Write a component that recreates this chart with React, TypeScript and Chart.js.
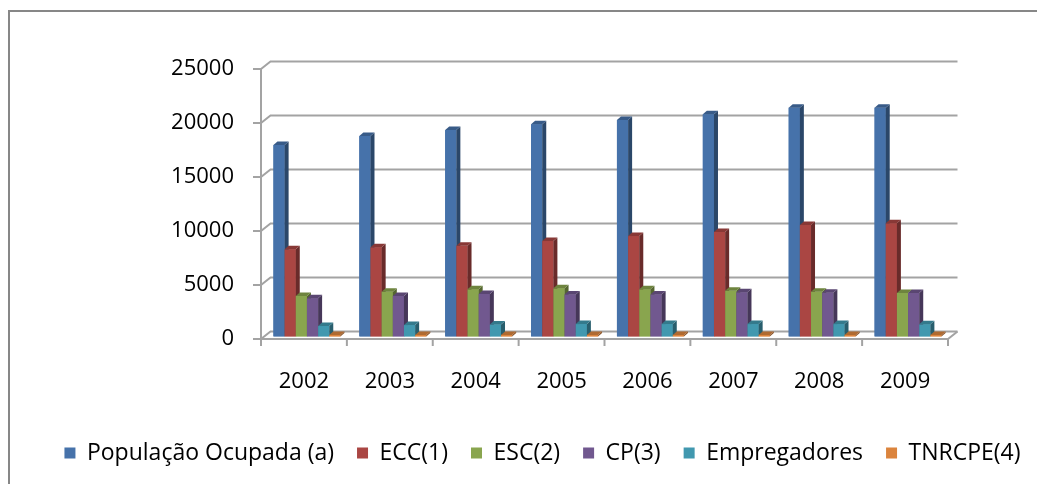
import React, { useEffect, useRef } from "react";
import { Chart, registerables } from "chart.js";

Chart.register(...registerables);

const categories = ["2002", "2003", "2004", "2005", "2006", "2007", "2008", "2009"];
const populacaoOcupada = [17730, 18560, 19120, 19650, 20050, 20570, 21190, 21190];
const ecc = [8070, 8260, 8400, 8840, 9300, 9680, 10320, 10480];
const esc = [3750, 4150, 4370, 4460, 4370, 4240, 4150, 4030];
const cp = [3540, 3750, 3940, 3900, 3900, 4090, 4060, 4030];
const empregadores = [970, 1060, 1120, 1150, 1150, 1150, 1150, 1130];
const tnrcpe = [150, 150, 150, 150, 150, 150, 150, 150];
const seriesLabels = [
  "População Ocupada (a)",
  "ECC(1)",
  "ESC(2)",
  "CP(3)",
  "Empregadores",
  "TNRCPE(4)",
];
const yTickValues = [0, 5000, 10000, 15000, 20000, 25000];

const COLORS = ["#4672AA", "#AA4643", "#89A54E", "#71588F", "#4198AF", "#DB843D"];
const GRID = "#a3a3a3";

const DX = 9.5;
const DY = -7.5;
const BX = 3;
const BY = -2.5;
const FX = 4;
const FY = -3.5;

function shade(hex: string, f: number) {
  const n = parseInt(hex.slice(1), 16);
  const r = Math.round(((n >> 16) & 255) * f);
  const g = Math.round(((n >> 8) & 255) * f);
  const b = Math.round((n & 255) * f);
  return `rgb(${r},${g},${b})`;
}

const threeD = {
  id: "threeD",
  beforeDraw(chart: any) {
    const { ctx, width, height } = chart;
    ctx.save();
    ctx.strokeStyle = "#878787";
    ctx.lineWidth = 2;
    ctx.beginPath();
    ctx.moveTo(1, height);
    ctx.lineTo(1, 3);
    ctx.lineTo(width, 3);
    ctx.stroke();
    ctx.restore();
  },
  beforeDatasetsDraw(chart: any) {
    const { ctx, chartArea } = chart;
    const { left, right } = chartArea;
    const x = chart.scales.x;
    const y = chart.scales.y;
    ctx.save();
    ctx.strokeStyle = GRID;
    ctx.lineWidth = 2;
    y.ticks.forEach((t: any) => {
      const py = y.getPixelForValue(t.value);
      ctx.beginPath();
      ctx.moveTo(left, py);
      ctx.lineTo(left + DX, py + DY);
      ctx.lineTo(right + DX, py + DY);
      ctx.stroke();
      ctx.beginPath();
      ctx.moveTo(left - 8, py);
      ctx.lineTo(left, py);
      ctx.stroke();
    });
    const y0 = y.getPixelForValue(0);
    const yTop = y.getPixelForValue(yTickValues[yTickValues.length - 1]);
    ctx.beginPath();
    ctx.moveTo(left, yTop);
    ctx.lineTo(left, y0);
    ctx.lineTo(right, y0);
    ctx.lineTo(right + DX, y0 + DY);
    ctx.stroke();
    const n = x.ticks.length;
    for (let i = 0; i <= n; i++) {
      const px = left + ((right - left) * i) / n;
      ctx.beginPath();
      ctx.moveTo(px, y0);
      ctx.lineTo(px, y0 + 7);
      ctx.stroke();
    }
    ctx.restore();
    ctx.save();
    ctx.translate(BX, BY);
  },
  afterDatasetsDraw(chart: any) {
    const { ctx } = chart;
    const metas = chart.data.datasets.map((_: any, i: number) => chart.getDatasetMeta(i));
    for (let j = 0; j < categories.length; j++) {
      for (let i = 0; i < metas.length; i++) {
        const el = metas[i].data[j];
        if (!el) continue;
        const { x, y, base, width } = el.getProps(["x", "y", "base", "width"], true);
        const l = x - width / 2;
        const r = x + width / 2;
        const c = COLORS[i];
        ctx.fillStyle = c;
        ctx.fillRect(l, y, width, base - y);
        ctx.fillStyle = shade(c, 0.62);
        ctx.beginPath();
        ctx.moveTo(r, y);
        ctx.lineTo(r + FX, y + FY);
        ctx.lineTo(r + FX, base + FY);
        ctx.lineTo(r, base);
        ctx.closePath();
        ctx.fill();
        ctx.fillStyle = shade(c, 0.8);
        ctx.beginPath();
        ctx.moveTo(l, y);
        ctx.lineTo(l + FX, y + FY);
        ctx.lineTo(r + FX, y + FY);
        ctx.lineTo(r, y);
        ctx.closePath();
        ctx.fill();
      }
    }
    ctx.restore();
  },
};

export default function App() {
  const ref = useRef<HTMLCanvasElement | null>(null);
  useEffect(() => {
    if (!ref.current) return;
    const series = [populacaoOcupada, ecc, esc, cp, empregadores, tnrcpe];
    const chart = new Chart(ref.current, {
      type: "bar",
      data: {
        labels: categories,
        datasets: series.map((d, i) => ({
          label: seriesLabels[i],
          data: d,
          backgroundColor: COLORS[i],
          borderWidth: 0,
        })),
      },
      options: {
        responsive: false,
        animation: false,
        layout: { padding: { left: 32, right: 0, top: 61, bottom: 9.5 } },
        datasets: {
          bar: { categoryPercentage: 0.78, barPercentage: 1 },
        },
        plugins: {
          tooltip: { enabled: false },
          legend: {
            position: "bottom",
            labels: {
              boxWidth: 11,
              boxHeight: 11,
              padding: 23,
              color: "#000",
              font: { family: "'Open Sans'", size: 23 },
            },
          },
        },
        scales: {
          x: {
            grid: { display: false, drawTicks: false },
            border: { display: false },
            ticks: {
              color: "#000",
              padding: 30,
              font: { family: "'Open Sans'", size: 22 },
            },
            afterFit: (s: any) => {
              s.height = 79.5;
            },
          },
          y: {
            min: 0,
            max: 25000,
            grid: { display: false, drawTicks: false },
            border: { display: false },
            ticks: {
              stepSize: 5000,
              color: "#000",
              padding: 27,
              font: { family: "'Open Sans'", size: 22 },
              callback: (v: any) => String(v),
            },
            afterFit: (s: any) => {
              s.width = 221;
            },
          },
          yR: {
            type: "linear",
            position: "right",
            display: true,
            grid: { display: false, drawTicks: false },
            border: { display: false },
            ticks: { display: false },
            afterFit: (s: any) => {
              s.width = 97;
            },
          },
        },
      },
      plugins: [threeD],
    });
    return () => chart.destroy();
  }, []);
  return (
    <div style={{ width: 1037, height: 476 }}>
      <canvas ref={ref} width={1037} height={476} style={{ display: "block" }} />
    </div>
  );
}
